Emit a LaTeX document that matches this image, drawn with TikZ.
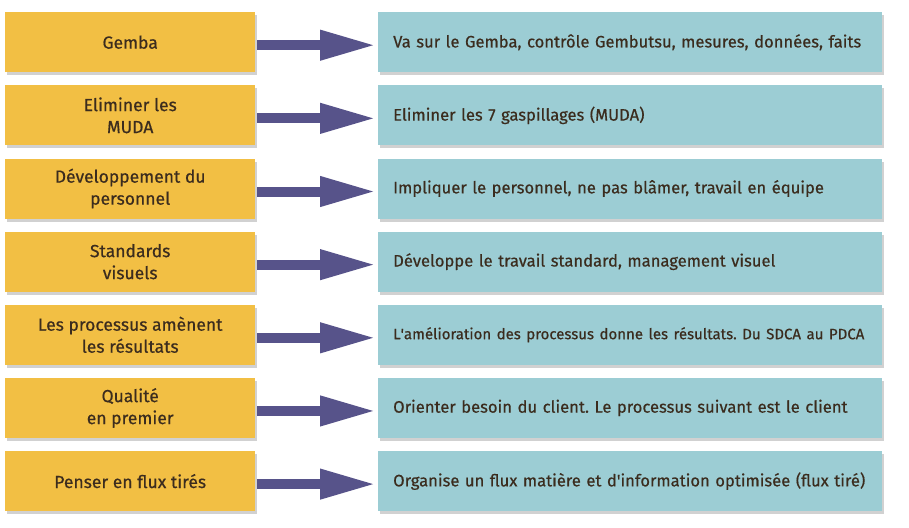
\documentclass[tikz,border=0pt]{standalone}
\usepackage{fontspec}
\setmainfont{Fira Sans}[FakeBold=0.5]
\usepackage{tikz}
\usetikzlibrary{shadows}
\usetikzlibrary{arrows.meta}

\definecolor{boxyellow}{HTML}{F2BF44}
\definecolor{boxteal}{HTML}{9CCDD4}
\definecolor{arrowpurple}{HTML}{57538A}
\definecolor{textbrown}{HTML}{3B2C1E}

\begin{document}
\frenchspacing
\begin{tikzpicture}
		[x=1pt, y=-1pt, text=textbrown,
		box/.style={inner sep=0pt, minimum height=60pt, anchor=north west,
			drop shadow={shadow xshift=2pt, shadow yshift=-3pt, opacity=0.3, fill=black!60}},
		box left/.style={box, fill=boxyellow, minimum width=250pt, align=center,
			font=\fontsize{17.5}{22}\selectfont},
		box right/.style={box, fill=boxteal, minimum width=504pt, text width=474pt, align=left,
			font=\fontsize{16.6}{21}\selectfont},
		link/.style={draw=arrowpurple, line width=10pt,
			-{Triangle[length=56pt, width=28pt]}}]
		
		\def \Gy {73.15};
		
		\useasboundingbox (0,0) rectangle (909,527);
		
		\foreach \n/\lt/\rt in {
			1/{Gemba}/{Va sur le Gemba, contrôle Gembutsu, mesures, données, faits},
			2/{Eliminer les\\MUDA}/{Eliminer les 7 gaspillages (MUDA)},
			3/{Développement du\\personnel}/{Impliquer le personnel, ne pas blâmer, travail en équipe},
			4/{Standards\\visuels}/{Développe le travail standard, management visuel},
			5/{Les processus amènent\\les résultats}/{\fontsize{15}{18}\selectfont L\textquotesingle amélioration des processus donne les résultats. Du SDCA au PDCA},
			6/{Qualité\\en premier}/{Orienter besoin du client. Le processus suivant est le client},
			7/{Penser en flux tirés}/{Organise un flux matière et d\textquotesingle information optimisée (flux tiré)}}
			{
			\node[box left] (L\n) at (5, {12+(\n-1)*\Gy}) {\lt};
			\node[box right] (R\n) at (378, {12+(\n-1)*\Gy}) {\rt};
			\draw[link] ([shift={(2,3)}]L\n.east) -- ([shift={(-2,3)}]R\n.west);
			}

	\end{tikzpicture}
\end{document}
